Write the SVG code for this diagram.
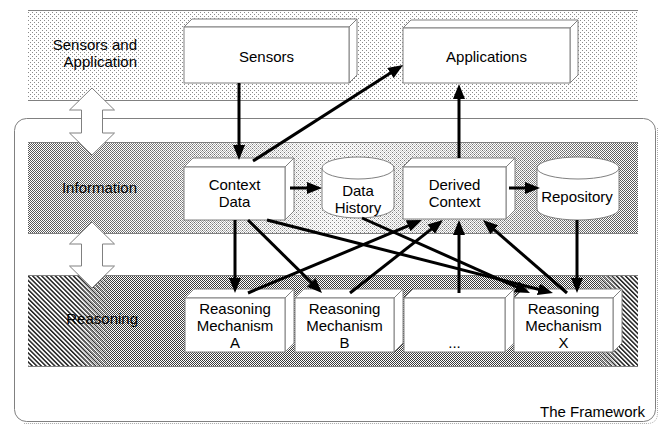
<svg xmlns="http://www.w3.org/2000/svg" width="665" height="425" viewBox="0 0 665 425">
<defs>
<style>
text{font-family:"Liberation Sans",Arial,sans-serif;font-size:15px;fill:#000}
.c{text-anchor:middle}
.e{text-anchor:end}
.face{fill:#fff;stroke:#808080;stroke-width:1}
.band-line{stroke:#808080;stroke-width:1;fill:none}
.conn{stroke:#000;stroke-width:3;fill:none;marker-end:url(#ah)}
.dbl{fill:#fff;stroke:#808080;stroke-width:1}
</style>
<marker id="ah" viewBox="0 0 10 8" markerWidth="5" markerHeight="4" refX="4.67" refY="4" orient="auto" markerUnits="strokeWidth">
<path d="M0,0 L10,4 L0,8 z" fill="#000"/>
</marker>
<pattern id="pLight" width="4" height="4" patternUnits="userSpaceOnUse">
<rect width="4" height="4" fill="#fff"/>
<rect x="0" y="0" width="1" height="1" fill="#8a8a8a"/>
<rect x="2" y="2" width="1" height="1" fill="#8a8a8a"/>
</pattern>
<pattern id="pCheck" width="2" height="2" patternUnits="userSpaceOnUse">
<rect width="2" height="2" fill="#fff"/>
<rect x="0" y="0" width="1" height="1" fill="#3a3a3a"/>
<rect x="1" y="1" width="1" height="1" fill="#3a3a3a"/>
</pattern>
<pattern id="pCheck2" width="2" height="2" patternUnits="userSpaceOnUse">
<rect width="2" height="2" fill="#fff"/>
<rect x="0" y="0" width="1" height="1" fill="#555"/>
<rect x="1" y="1" width="1" height="1" fill="#555"/>
</pattern>
<pattern id="pHatch" width="3.2" height="8" patternUnits="userSpaceOnUse" patternTransform="rotate(-45)">
<rect width="3.2" height="8" fill="#fff"/>
<rect x="0" y="0" width="1.5" height="8" fill="#222"/>
</pattern>
<linearGradient id="gInfo" x1="0" y1="0" x2="1" y2="0">
<stop offset="0" stop-color="#fff"/>
<stop offset="0.2" stop-color="#fff" stop-opacity="0.75"/>
<stop offset="0.5" stop-color="#fff" stop-opacity="0.1"/>
<stop offset="0.78" stop-color="#fff" stop-opacity="0.6"/>
<stop offset="1" stop-color="#fff"/>
</linearGradient>
<mask id="mInfo" maskContentUnits="userSpaceOnUse">
<rect x="28" y="142" width="610" height="92" fill="url(#gInfo)"/>
</mask>
<linearGradient id="gReas" x1="0" y1="0" x2="1" y2="0">
<stop offset="0" stop-color="#fff"/>
<stop offset="0.08" stop-color="#fff"/>
<stop offset="0.14" stop-color="#fff" stop-opacity="0"/>
<stop offset="0.93" stop-color="#fff" stop-opacity="0"/>
<stop offset="0.97" stop-color="#fff"/>
<stop offset="1" stop-color="#fff"/>
</linearGradient>
<mask id="mReas" maskContentUnits="userSpaceOnUse">
<rect x="28" y="275" width="610" height="92" fill="url(#gReas)"/>
</mask>
</defs>

<g id="bands">
<rect x="28" y="10" width="610" height="91" fill="url(#pLight)"/>
<line class="band-line" x1="28" y1="10.5" x2="638" y2="10.5"/>
<line class="band-line" x1="28" y1="100.5" x2="638" y2="100.5" stroke="#666"/>
</g>

<g id="framework">
<rect x="14.5" y="118.5" width="641" height="303" rx="12" ry="12" fill="#fff" stroke="#808080"/>
<path d="M657.5,128 L657.5,413 Q657.5,423.5 647,423.5 L24,423.5" fill="none" stroke="#aaa" stroke-dasharray="1 1"/>
</g>

<g id="band-info">
<rect x="28" y="142" width="610" height="92" fill="url(#pLight)"/>
<rect x="28" y="142" width="610" height="92" fill="url(#pCheck2)" mask="url(#mInfo)"/>
<line class="band-line" x1="28" y1="142.5" x2="638" y2="142.5"/>
<line class="band-line" x1="28" y1="233.5" x2="638" y2="233.5" stroke="#666"/>
</g>

<g id="band-reasoning">
<rect x="28" y="275" width="610" height="92" fill="url(#pCheck)"/>
<rect x="28" y="275" width="610" height="92" fill="url(#pHatch)" mask="url(#mReas)"/>
<line class="band-line" x1="28" y1="275.5" x2="638" y2="275.5"/>
<line class="band-line" x1="28" y1="366.5" x2="638" y2="366.5" stroke="#666"/>
</g>

<g id="labels">
<text class="e" x="137" y="50">Sensors and</text>
<text class="e" x="137" y="67">Application</text>
<text class="e" x="137" y="193">Information</text>
<text class="e" x="138" y="324">Reasoning</text>
<text class="e" x="645" y="417">The Framework</text>
</g>

<g id="sensors">
<polygon class="face" points="184,27 192,19 357,19 349,27"/>
<polygon class="face" points="349,27 357,19 357,75 349,83"/>
<rect class="face" x="184" y="27" width="165" height="56"/>
<text class="c" x="266.5" y="62">Sensors</text>
</g>

<g id="applications">
<polygon class="face" points="403,28 411,20 578,20 570,28"/>
<polygon class="face" points="570,28 578,20 578,75 570,83"/>
<rect class="face" x="403" y="28" width="167" height="55"/>
<text class="c" x="486.5" y="62">Applications</text>
</g>

<g id="context-data">
<polygon class="face" points="184,167 193,158 294,158 285,167"/>
<polygon class="face" points="285,167 294,158 294,211 285,220"/>
<rect class="face" x="184" y="167" width="101" height="53"/>
<text class="c" x="234.5" y="190">Context</text>
<text class="c" x="234.5" y="207">Data</text>
</g>

<g id="data-history">
<path class="face" d="M322,168 L322,207 A36,11 0 0 0 394,207 L394,168"/>
<ellipse class="face" cx="358" cy="168" rx="36" ry="11"/>
<text class="c" x="358" y="196">Data</text>
<text class="c" x="358" y="213">History</text>
</g>

<g id="derived-context">
<polygon class="face" points="403,167 412,158 515,158 506,167"/>
<polygon class="face" points="506,167 515,158 515,210 506,219"/>
<rect class="face" x="403" y="167" width="103" height="52"/>
<text class="c" x="454.5" y="190">Derived</text>
<text class="c" x="454.5" y="207">Context</text>
</g>

<g id="repository">
<path class="face" d="M537,168 L537,209 A41,11 0 0 0 619,209 L619,168"/>
<ellipse class="face" cx="578" cy="168" rx="41" ry="11"/>
<text class="c" x="577" y="202">Repository</text>
</g>

<g id="reasoning-a">
<polygon class="face" points="185,298 194,289 294,289 285,298"/>
<polygon class="face" points="285,298 294,289 294,343 285,352"/>
<rect class="face" x="185" y="298" width="100" height="54"/>
<text class="c" x="235" y="314">Reasoning</text>
<text class="c" x="235" y="331">Mechanism</text>
<text class="c" x="235" y="348">A</text>
</g>

<g id="reasoning-b">
<polygon class="face" points="295,298 304,289 403,289 394,298"/>
<polygon class="face" points="394,298 403,289 403,343 394,352"/>
<rect class="face" x="295" y="298" width="99" height="54"/>
<text class="c" x="344.5" y="314">Reasoning</text>
<text class="c" x="344.5" y="331">Mechanism</text>
<text class="c" x="344.5" y="348">B</text>
</g>

<g id="reasoning-etc">
<polygon class="face" points="404,298 413,289 514,289 505,298"/>
<polygon class="face" points="505,298 514,289 514,343 505,352"/>
<rect class="face" x="404" y="298" width="101" height="54"/>
<text class="c" x="454.5" y="348">...</text>
</g>

<g id="reasoning-x">
<polygon class="face" points="514,298 523,289 622,289 613,298"/>
<polygon class="face" points="613,298 622,289 622,343 613,352"/>
<rect class="face" x="514" y="298" width="99" height="54"/>
<text class="c" x="563.5" y="314">Reasoning</text>
<text class="c" x="563.5" y="331">Mechanism</text>
<text class="c" x="563.5" y="348">X</text>
</g>

<g id="connectors">
<line class="conn" x1="239" y1="83" x2="239" y2="152"/>
<line class="conn" x1="253" y1="161" x2="396.3" y2="69.3"/>
<line class="conn" x1="459" y1="158" x2="459" y2="92"/>
<line class="conn" x1="290" y1="188" x2="314" y2="188"/>
<line class="conn" x1="509" y1="188" x2="532" y2="188"/>
<line class="conn" x1="235" y1="220" x2="235" y2="285"/>
<line class="conn" x1="248" y1="220" x2="316.3" y2="287.4"/>
<line class="conn" x1="267" y1="220" x2="545.2" y2="291"/>
<line class="conn" x1="362" y1="218" x2="522.7" y2="289.7"/>
<line class="conn" x1="577" y1="220" x2="577" y2="285"/>
<line class="conn" x1="248" y1="293" x2="414.6" y2="223.1"/>
<line class="conn" x1="350" y1="293" x2="436.7" y2="224.9"/>
<line class="conn" x1="459" y1="293" x2="459" y2="228"/>
<line class="conn" x1="567" y1="293" x2="489" y2="225.2"/>
</g>

<g id="double-arrow-1">
<polygon class="dbl" points="92,88 114.5,110 102.5,110 102.5,133 114.5,133 92,155 69.5,133 81.5,133 81.5,110 69.5,110"/>
</g>
<g id="double-arrow-2">
<polygon class="dbl" points="92,222 114.5,244 102.5,244 102.5,266 114.5,266 92,288 69.5,266 81.5,266 81.5,244 69.5,244"/>
</g>
</svg>
